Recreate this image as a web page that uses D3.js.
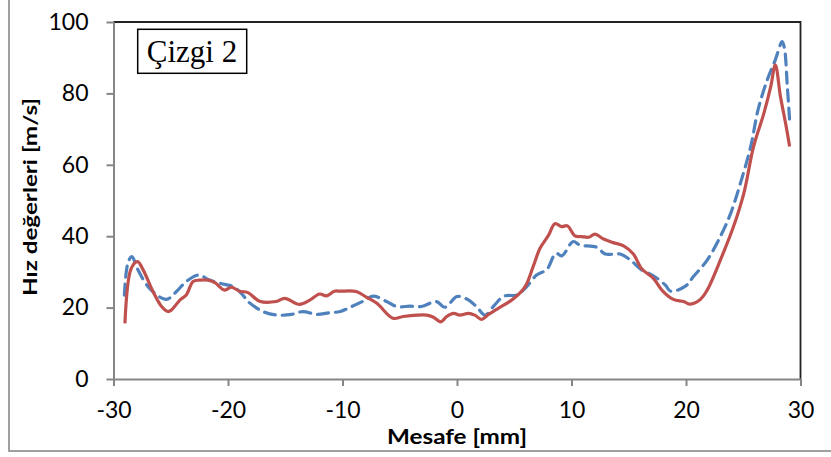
<!DOCTYPE html>
<html>
<head>
<meta charset="utf-8">
<script src="https://cdn.jsdelivr.net/npm/d3@7/dist/d3.min.js"></script>
<style>
  html, body { margin: 0; padding: 0; background: #fff; }
  svg { display: block; }
</style>
</head>
<body>
<svg id="chart" width="831" height="457"></svg>
<script>
// ---- data ----
const xTicks = [-30, -20, -10, 0, 10, 20, 30];
const yTicks = [0, 20, 40, 60, 80, 100];

const redX = [-29.0, -28.45, -27.9, -27.4, -26.55, -25.8, -25.25, -24.95, -24.2, -23.65, -23.05, -22.5, -21.75, -21.15, -20.3, -19.7, -19.0, -18.25, -17.25, -15.8, -15.05, -13.75, -12.85, -12.0, -11.4, -10.7, -10.2, -8.8, -7.9, -7.0, -5.6, -4.7, -3.5, -2.65, -2.05, -1.4, -0.9, -0.3, 0.25, 1.0, 1.55, 2.15, 2.75, 3.5, 4.9, 5.95, 6.65, 7.25, 8.0, 8.55, 9.15, 9.65, 10.3, 10.9, 11.5, 12.05, 12.8, 13.65, 14.55, 15.4, 16.15, 17.15, 17.95, 18.9, 19.8, 20.3, 21.25, 21.85, 23.0, 24.15, 25.05, 25.9, 26.8, 27.4, 27.8, 28.25, 28.7, 29.05];
const redY = [15.6, 31, 32.9, 30.5, 24.5, 20.3, 18.9, 19.3, 22.1, 23.5, 27.3, 27.7, 27.7, 27, 24.9, 25.7, 24.6, 24.2, 21.8, 21.7, 22.6, 20.9, 22.1, 23.8, 23.3, 24.6, 24.6, 24.5, 22.9, 21.2, 17, 17.5, 17.9, 17.9, 17.3, 16, 17.5, 18.4, 17.9, 18.4, 17.9, 16.7, 18.1, 19.6, 22.4, 25.9, 31.5, 36.6, 40.3, 43.5, 42.7, 42.9, 40.1, 39.9, 39.7, 40.6, 39.2, 38.2, 37.3, 35, 30.8, 28.2, 24.7, 22.3, 21.7, 21, 22.3, 24.9, 33.3, 42.7, 52, 65.1, 74.4, 81.9, 88, 79.1, 71.6, 65.1];

const blueX = [-29.05, -28.75, -28.4, -27.85, -26.85, -25.4, -24.5, -23.65, -22.6, -21.6, -20.45, -19.55, -18.7, -18.25, -16.95, -15.75, -14.45, -13.45, -12.25, -11.1, -10.2, -9.2, -8.2, -7.3, -6.15, -5.25, -4.1, -3.1, -1.8, -1.05, 0.0, 0.85, 1.7, 2.45, 3.2, 4.1, 5.2, 5.8, 6.1, 6.95, 7.85, 8.45, 8.7, 9.15, 10.15, 10.75, 12.2, 12.95, 14.25, 15.15, 16.15, 17.15, 18.2, 18.65, 19.95, 20.65, 21.85, 23.0, 23.9, 24.75, 25.65, 26.3, 27.1, 27.8, 28.4, 28.6, 28.85, 29.05];
const blueY = [23.5, 32.4, 34.3, 30.5, 25.4, 22.3, 24.5, 27.3, 29.1, 27.7, 26.6, 25.9, 23.5, 21.7, 18.9, 17.9, 18.1, 18.9, 18.1, 18.6, 18.9, 20.3, 21.8, 23.2, 21.7, 20.3, 20.4, 20.3, 21.7, 20.1, 23.1, 22.4, 20.3, 17.9, 20.4, 23.2, 23.5, 24.9, 25.9, 29.1, 30.7, 34.5, 35.2, 34.5, 38.5, 37.5, 36.9, 35, 35, 33.3, 30.5, 28.9, 26.3, 24.6, 26, 28.7, 33.3, 39.9, 46.4, 54.8, 65.1, 75.5, 83.8, 89.4, 94.5, 92.6, 81.9, 72.5];

const xTitle = "Mesafe [mm]";
const yTitle = "Hız değerleri [m/s]";
const boxLabel = "Çizgi 2";

// ---- layout ----
const svg = d3.select("#chart");
const pLeft = 113.5, pRight = 800.5, pTop = 22, pBottom = 379;

const x = d3.scaleLinear().domain([-30, 30]).range([pLeft, pRight]);
const y = d3.scaleLinear().domain([0, 100]).range([pBottom, pTop]);

// outer chart border
svg.append("rect")
  .attr("x", 9).attr("y", -5).attr("width", 830).attr("height", 456)
  .attr("fill", "none").attr("stroke", "#a0a0a0").attr("stroke-width", 2);

// plot frame (top & right dark)
svg.append("path")
  .attr("d", `M${pLeft},${pTop}H${pRight}V${pBottom}`)
  .attr("fill", "none").attr("stroke", "#222").attr("stroke-width", 1.8);

const tickFont = "Lato, 'Open Sans', sans-serif";
const fmt = d => String(d);

// y axis
const gy = svg.append("g").attr("transform", `translate(${pLeft},0)`)
  .call(d3.axisLeft(y).tickValues(yTicks).tickFormat(fmt).tickSize(7).tickPadding(18).tickSizeOuter(0));
gy.select(".domain").attr("stroke", "#868686").attr("stroke-width", 2);
gy.selectAll(".tick line").attr("stroke", "#868686").attr("stroke-width", 2);
gy.selectAll(".tick text").attr("font-family", tickFont).attr("font-size", 23).attr("fill", "#000");

// x axis
const gx = svg.append("g").attr("transform", `translate(0,${pBottom})`)
  .call(d3.axisBottom(x).tickValues(xTicks).tickFormat(fmt).tickSize(7).tickPadding(16).tickSizeOuter(0));
gx.select(".domain").attr("stroke", "#868686").attr("stroke-width", 2);
gx.selectAll(".tick line").attr("stroke", "#868686").attr("stroke-width", 2);
gx.selectAll(".tick text").attr("font-family", tickFont).attr("font-size", 23).attr("fill", "#000");

// series
const line = d3.line().x(d => x(d[0])).y(d => y(d[1])).curve(d3.curveCatmullRom.alpha(0.5));
const blueData = blueX.map((v, i) => [v, blueY[i]]);
const redData = redX.map((v, i) => [v, redY[i]]);

svg.append("path").datum(blueData).attr("d", line)
  .attr("fill", "none").attr("stroke", "#4F81BD").attr("stroke-width", 3.2)
  .attr("stroke-dasharray", "11,7").attr("stroke-linecap", "round");
svg.append("path").datum(redData).attr("d", line)
  .attr("fill", "none").attr("stroke", "#C0504D").attr("stroke-width", 3.2)
  .attr("stroke-linejoin", "round");

// axis titles
svg.append("text").attr("x", 457).attr("y", 443.5).attr("text-anchor", "middle")
  .attr("font-family", tickFont).attr("font-weight", "bold").attr("font-size", 20)
  .attr("textLength", 140).attr("lengthAdjust", "spacingAndGlyphs")
  .text(xTitle);
svg.append("text").attr("transform", "translate(37,197) rotate(-90)").attr("text-anchor", "middle")
  .attr("font-family", tickFont).attr("font-weight", "bold").attr("font-size", 19)
  .attr("textLength", 198).attr("lengthAdjust", "spacingAndGlyphs")
  .text(yTitle);

// label box
svg.append("rect").attr("x", 137.7).attr("y", 29.3).attr("width", 109).attr("height", 44)
  .attr("fill", "#fff").attr("stroke", "#000").attr("stroke-width", 1.5);
svg.append("text").attr("x", 192).attr("y", 62).attr("text-anchor", "middle")
  .attr("font-family", "'Liberation Serif', 'Times New Roman', serif").attr("font-size", 31)
  .text(boxLabel);
</script>
</body>
</html>
